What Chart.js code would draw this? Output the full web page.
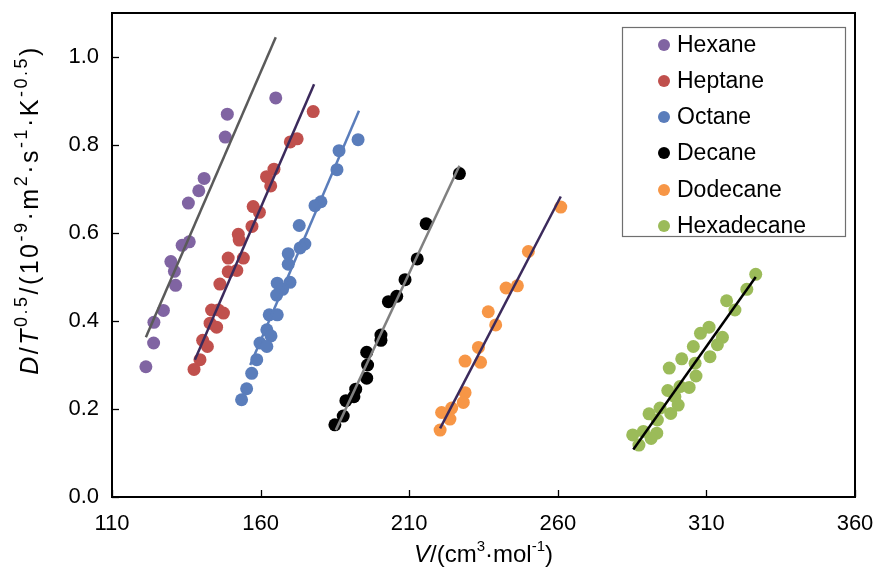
<!DOCTYPE html>
<html><head><meta charset="utf-8">
<script src="https://cdn.jsdelivr.net/npm/chart.js@4/dist/chart.umd.min.js"></script>
<style>html,body{margin:0;padding:0;background:#fff}#wrap{width:878px;height:572px}</style>
</head><body><div id="wrap"><canvas id="c" width="878" height="572"></canvas></div>
<script>
const seriesNames = ["Hexane","Heptane","Octane","Decane","Dodecane","Hexadecane"];
const pointColors = ["#8064a2","#c0504d","#5a7dbb","#000000","#f79646","#9bbb59"];
const lineColors = ["#5a5a5a","#3b2a5c","#5a7dbb","#808080","#3b2a5c","#000000"];
const xTicks = [110,160,210,260,310,360];
const yTicks = [0.0,0.2,0.4,0.6,0.8,1.0];

const hexaneV = [165.1,148.8,148.1,141.0,139.2,135.7,136.0,133.6,129.8,131.0,131.4,127.3,124.1,124.0,121.4];
const hexaneD = [0.907,0.870,0.818,0.724,0.696,0.668,0.580,0.572,0.535,0.513,0.481,0.424,0.397,0.350,0.296];
const heptaneV = [177.7,170.0,172.3,164.5,162.0,163.4,157.5,159.6,157.1,152.5,152.8,154.2,149.1,152.0,149.1,146.3,145.8,143.5,147.5,143.0,145.2,140.5,142.1,139.6,137.6];
const heptaneD = [0.876,0.807,0.814,0.745,0.728,0.707,0.660,0.647,0.615,0.597,0.584,0.543,0.543,0.515,0.512,0.484,0.425,0.425,0.418,0.395,0.386,0.356,0.342,0.312,0.290];
const octaneV = [192.8,186.4,185.7,180.3,178.3,173.0,174.9,173.3,169.3,169.3,165.6,169.9,167.4,165.4,162.9,165.6,162.1,163.5,159.8,162.1,158.7,157.0,155.3,153.6];
const octaneD = [0.812,0.787,0.744,0.671,0.662,0.617,0.575,0.566,0.553,0.529,0.486,0.488,0.472,0.459,0.414,0.414,0.380,0.366,0.350,0.342,0.312,0.281,0.246,0.221];
const decaneV = [226.9,215.7,212.7,208.6,205.8,203.0,200.5,200.5,195.7,196.0,195.7,192.0,191.4,188.7,187.8,185.0];
const decaneD = [0.735,0.621,0.541,0.494,0.456,0.444,0.368,0.356,0.329,0.300,0.270,0.245,0.228,0.219,0.184,0.164];
const dodecaneV = [261.0,250.1,246.4,242.6,236.6,239.1,233.3,228.8,234.0,228.8,228.2,224.3,220.9,223.7,220.4];
const dodecaneD = [0.659,0.558,0.480,0.475,0.421,0.391,0.340,0.309,0.306,0.237,0.215,0.202,0.192,0.177,0.152];
const hexadecaneV = [326.6,323.6,316.8,319.6,310.9,308.0,315.4,313.7,305.6,311.2,301.7,306.2,297.5,306.5,301.1,304.2,297.0,299.4,300.5,294.4,298.0,290.7,293.5,293.3,291.4,288.8,285.2,287.3];
const hexadecaneD = [0.506,0.472,0.446,0.425,0.386,0.372,0.363,0.346,0.342,0.319,0.314,0.304,0.293,0.275,0.251,0.249,0.242,0.228,0.209,0.202,0.190,0.189,0.175,0.145,0.133,0.149,0.141,0.118];

// fitted line end points [V_start, V_end], [D_start, D_end]
const fitV = [[121.4,165.1],[137.9,178.0],[156.5,193.1],[185.3,226.9],[220.4,261.0],[285.4,326.6]];
const fitD = [[0.363,1.045],[0.312,0.938],[0.300,0.878],[0.152,0.753],[0.156,0.683],[0.108,0.500]];

const allV = [hexaneV,heptaneV,octaneV,decaneV,dodecaneV,hexadecaneV];
const allD = [hexaneD,heptaneD,octaneD,decaneD,dodecaneD,hexadecaneD];

const FONT = "'Liberation Sans', Arial, sans-serif";
const datasets = [];
seriesNames.forEach((n,i)=>{
  datasets.push({
    type:'scatter', label:n, order:2,
    data: allV[i].map((v,k)=>({x:v,y:allD[i][k]})),
    backgroundColor: pointColors[i], borderColor: pointColors[i],
    pointRadius: 6.5, pointBorderWidth:0, pointHoverRadius:6.5
  });
});
seriesNames.forEach((n,i)=>{
  datasets.push({
    type:'line', label:n+' fit', order:1,
    data: fitV[i].map((v,k)=>({x:v,y:fitD[i][k]})),
    borderColor: lineColors[i], borderWidth: 2.5, pointRadius:0, fill:false, tension:0
  });
});

function drawRich(ctx, segs, size, supSize, spacing){
  let w = 0;
  segs.forEach(s=>{
    ctx.font = (s.it?'italic ':'') + (s.sup?supSize:size) + 'px ' + FONT;
    s.w = ctx.measureText(s.t).width + spacing*s.t.length; w += s.w;
  });
  let x = -w/2;
  segs.forEach(s=>{
    ctx.font = (s.it?'italic ':'') + (s.sup?supSize:size) + 'px ' + FONT;
    let cx = x;
    for (const ch of s.t){
      ctx.fillText(ch, cx, s.sup ? -size*0.36 : 0);
      cx += ctx.measureText(ch).width + spacing;
    }
    x += s.w;
  });
}

const decor = {
  id:'decor',
  afterDatasetsDraw(chart){
    const ctx = chart.ctx, a = chart.chartArea;
    const xs = chart.scales.x, ys = chart.scales.y;
    ctx.save();
    ctx.strokeStyle = '#000'; ctx.lineWidth = 1.3;
    xs.ticks.forEach(t=>{
      const px = Math.round(xs.getPixelForValue(t.value))+0.5;
      ctx.beginPath(); ctx.moveTo(px,a.bottom); ctx.lineTo(px,a.bottom-7); ctx.stroke();
    });
    ys.ticks.forEach(t=>{
      const py = Math.round(ys.getPixelForValue(t.value))+0.5;
      ctx.beginPath(); ctx.moveTo(a.left,py); ctx.lineTo(a.left+7,py); ctx.stroke();
    });
    ctx.lineWidth = 2;
    ctx.strokeRect(a.left, a.top, a.right-a.left, a.bottom-a.top);
    // legend
    ctx.lineWidth = 1.2; ctx.strokeStyle = '#6f6f6f';
    ctx.strokeRect(622.5, 27.5, 223, 209);
    const ys0 = [45,81,117,153,190,226];
    ctx.textBaseline = 'middle'; ctx.textAlign='left';
    ctx.font = '23px ' + FONT;
    seriesNames.forEach((n,i)=>{
      ctx.fillStyle = pointColors[i];
      ctx.beginPath(); ctx.arc(664, ys0[i], 6, 0, Math.PI*2); ctx.fill();
      ctx.fillStyle = '#000';
      ctx.fillText(n, 677, ys0[i]+1);
    });
    // axis titles
    ctx.fillStyle = '#000'; ctx.textBaseline='middle'; ctx.textAlign='left';
    ctx.save();
    ctx.translate((a.left+a.right)/2, 555);
    drawRich(ctx, [{t:'V',it:true},{t:'/(cm'},{t:'3',sup:true},{t:'·mol'},{t:'-1',sup:true},{t:')'}], 24, 15, 0);
    ctx.restore();
    ctx.save();
    ctx.translate(31, 210);
    ctx.rotate(-Math.PI/2);
    drawRich(ctx, [{t:'D',it:true},{t:'/'},{t:'T',it:true},{t:'0.5',sup:true},{t:'/(10'},{t:'-9',sup:true},{t:'·m'},{t:'2',sup:true},{t:'·s'},{t:'-1',sup:true},{t:'·K'},{t:'-0.5',sup:true},{t:')'}], 25, 18, 2.5);
    ctx.restore();
    ctx.restore();
  }
};

function zeroPad(s){ s.paddingLeft=0; s.paddingRight=0; s.paddingTop=0; s.paddingBottom=0; }

new Chart(document.getElementById('c'), {
  type:'scatter',
  data:{datasets},
  options:{
    responsive:false, animation:false,
    layout:{padding:{left:0,top:13,right:23,bottom:0}},
    plugins:{legend:{display:false}, tooltip:{enabled:false}},
    scales:{
      x:{type:'linear', min:110, max:360,
        afterBuildTicks:(s)=>{s.ticks = xTicks.map(v=>({value:v}));},
        afterFit:(s)=>{s.height = 75; zeroPad(s);},
        grid:{display:true, drawOnChartArea:false, drawTicks:false},
        border:{display:false},
        ticks:{padding:14, color:'#000', font:{size:22, family:FONT}, maxRotation:0, callback:v=>String(v)}
      },
      y:{type:'linear', min:0, max:1.1,
        afterBuildTicks:(s)=>{s.ticks = yTicks.map(v=>({value:v}));},
        afterFit:(s)=>{s.width = 112; zeroPad(s);},
        grid:{display:true, drawOnChartArea:false, drawTicks:false},
        border:{display:false},
        ticks:{padding:13, color:'#000', font:{size:22, family:FONT}, callback:v=>Number(v).toFixed(1)}
      }
    }
  },
  plugins:[decor]
});
</script></body></html>
